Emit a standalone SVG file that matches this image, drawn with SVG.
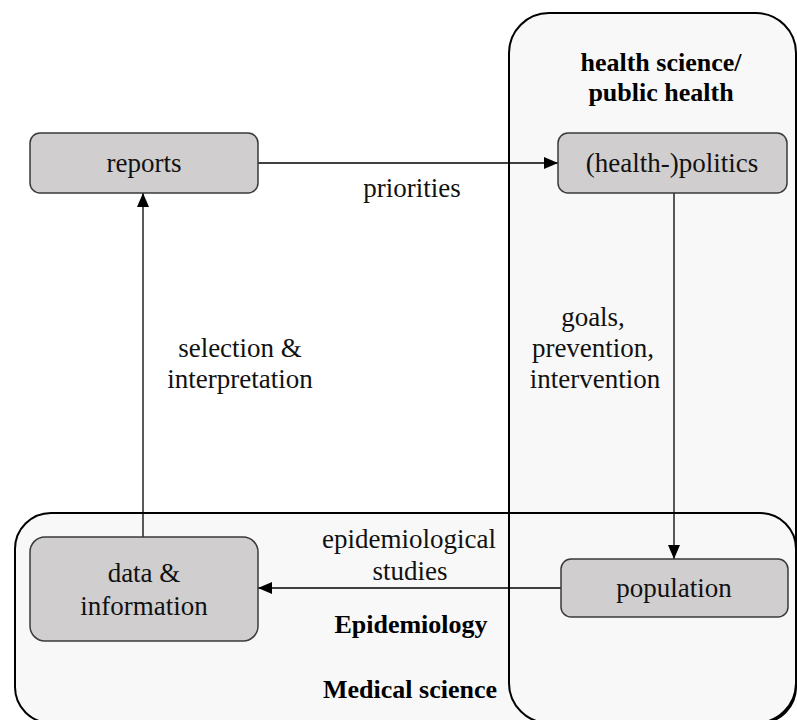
<svg xmlns="http://www.w3.org/2000/svg" width="797" height="720" viewBox="0 0 797 720">
  <defs>
    <marker id="arrow" viewBox="0 0 14 12" refX="14" refY="6" markerWidth="14" markerHeight="12" markerUnits="userSpaceOnUse" orient="auto">
      <path d="M0,0 L14,6 L0,12 Z" fill="#000"/>
    </marker>
  </defs>
  <style>
    .area { fill: #f8f8f8; stroke: none; }
    .area-edge { fill: none; stroke: #000; stroke-width: 2; }
    .node { fill: #d0cece; stroke: #3a3a3a; stroke-width: 1.5; }
    .lbl { font-family: "Liberation Serif", "Times New Roman", serif; font-size: 27px; fill: #111; text-anchor: middle; }
    .title { font-family: "Liberation Serif", "Times New Roman", serif; font-size: 26px; font-weight: bold; fill: #000; text-anchor: middle; }
    .edge { fill: none; stroke: #000; stroke-width: 1.3; marker-end: url(#arrow); }
  </style>
  <rect width="797" height="720" fill="#fff"/>

  <!-- domain areas: fills first, then outlines so both borders stay visible -->
  <g id="areas">
    <rect class="area" x="509" y="13" width="287" height="710" rx="40"/>
    <rect class="area" x="15" y="513" width="781" height="210" rx="36"/>
    <rect id="public-health-area" class="area-edge" x="509" y="13" width="287" height="710" rx="40"/>
    <rect id="medical-science-area" class="area-edge" x="15" y="513" width="781" height="210" rx="36"/>
    <text class="title" x="661" y="71">health science/</text>
    <text class="title" x="661" y="101">public health</text>
    <text class="title" x="411" y="633">Epidemiology</text>
    <text class="title" x="410" y="698">Medical science</text>
  </g>

  <!-- connectors -->
  <g id="connectors">
    <line class="edge" x1="258" y1="163" x2="558" y2="163"/>
    <line class="edge" x1="674" y1="193" x2="674" y2="559"/>
    <line class="edge" x1="561" y1="588" x2="258" y2="588"/>
    <line class="edge" x1="143" y1="537" x2="143" y2="193"/>
    <text class="lbl" x="412" y="197">priorities</text>
    <text class="lbl" x="593" y="326">goals,</text>
    <text class="lbl" x="593" y="357">prevention,</text>
    <text class="lbl" x="595" y="388">intervention</text>
    <text class="lbl" x="240" y="357">selection &amp;</text>
    <text class="lbl" x="240" y="388">interpretation</text>
    <text class="lbl" x="409" y="548">epidemiological</text>
    <text class="lbl" x="410" y="580">studies</text>
  </g>

  <!-- nodes -->
  <g id="reports">
    <rect class="node" x="30" y="133" width="228" height="60" rx="10"/>
    <text class="lbl" x="144" y="172">reports</text>
  </g>
  <g id="politics">
    <rect class="node" x="558" y="133" width="229" height="60" rx="10"/>
    <text class="lbl" x="672" y="172">(health-)politics</text>
  </g>
  <g id="population">
    <rect class="node" x="561" y="559" width="227" height="58" rx="10"/>
    <text class="lbl" x="674" y="597">population</text>
  </g>
  <g id="data">
    <rect class="node" x="30" y="537" width="228" height="104" rx="15"/>
    <text class="lbl" x="144" y="582">data &amp;</text>
    <text class="lbl" x="144" y="615">information</text>
  </g>
</svg>
